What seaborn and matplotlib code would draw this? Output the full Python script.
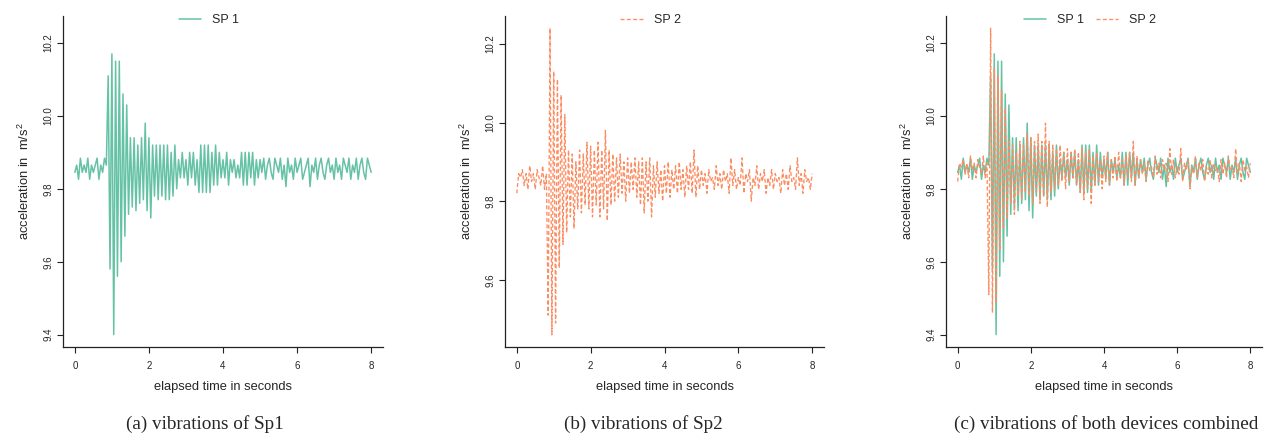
import numpy as np
import matplotlib
matplotlib.use('Agg')
import matplotlib.pyplot as plt
import seaborn as sns

# sampling rate of the smartphones (Hz)
SAMPLE_RATE = 20

# acceleration readings of smartphone 1 (m/s^2)
sp1 = [
    9.845, 9.865, 9.826, 9.884, 9.845, 9.865, 9.845, 9.884, 9.826, 9.865,
    9.845, 9.865, 9.884, 9.826, 9.865, 9.845, 9.884, 9.865,
    10.11, 9.58, 10.17, 9.40, 10.15, 9.56, 10.15, 9.60, 10.06, 9.67,
    10.03, 9.73, 9.94, 9.75, 9.94, 9.74, 9.92, 9.76, 9.94, 9.77,
    9.98, 9.74, 9.94, 9.72, 9.92, 9.78, 9.92, 9.77, 9.92, 9.78,
    9.92, 9.77, 9.92, 9.77, 9.90, 9.78, 9.92, 9.80, 9.88, 9.83,
    9.90, 9.83, 9.88, 9.81, 9.90, 9.83, 9.90, 9.81, 9.88, 9.79,
    9.92, 9.79, 9.92, 9.79, 9.92, 9.79, 9.90, 9.81, 9.92, 9.81,
    9.90, 9.83, 9.88, 9.83, 9.90, 9.81, 9.88, 9.845, 9.88, 9.83,
    9.865, 9.83, 9.90, 9.81, 9.90, 9.81, 9.90, 9.83, 9.90, 9.81,
    9.88, 9.83, 9.88,
    9.845, 9.884, 9.826, 9.865, 9.884, 9.845, 9.826, 9.884, 9.865, 9.845,
    9.884, 9.826, 9.865, 9.806, 9.884, 9.845, 9.865, 9.826, 9.884, 9.845,
    9.865, 9.884, 9.826, 9.845, 9.865, 9.884, 9.806, 9.865, 9.845, 9.884,
    9.826, 9.865, 9.884, 9.845, 9.826, 9.865, 9.884, 9.845, 9.865, 9.826,
    9.884, 9.845, 9.865, 9.826, 9.884, 9.865, 9.845, 9.884, 9.826, 9.865,
    9.845, 9.884, 9.826, 9.865, 9.884, 9.845, 9.826, 9.884, 9.865, 9.845,
]

# acceleration readings of smartphone 2 (m/s^2)
sp2 = [
    9.82, 9.87, 9.86, 9.88, 9.84, 9.87, 9.83, 9.89, 9.85, 9.87,
    9.83, 9.88, 9.86, 9.84, 9.89, 9.83, 9.87,
    9.51, 10.24, 9.46, 10.13, 9.49, 10.11, 9.63, 10.07, 9.69, 10.02,
    9.72, 9.93, 9.76, 9.92, 9.73, 9.90, 9.78, 9.93, 9.77, 9.92,
    9.79, 9.95, 9.78, 9.94, 9.76, 9.93, 9.79, 9.95, 9.76, 9.93,
    9.78, 9.98, 9.75, 9.93, 9.79, 9.92, 9.80, 9.91, 9.81, 9.92,
    9.82, 9.90, 9.80, 9.91, 9.82, 9.90, 9.83, 9.91, 9.81, 9.90,
    9.79, 9.91, 9.77, 9.90, 9.80, 9.91, 9.76, 9.89, 9.81, 9.90,
    9.82, 9.88, 9.80, 9.89, 9.82, 9.90, 9.81, 9.88, 9.83, 9.89,
    9.82, 9.90, 9.83, 9.88, 9.81, 9.89, 9.83, 9.90, 9.82, 9.93,
    9.81, 9.89, 9.83, 9.88,
    9.84, 9.87, 9.82, 9.88, 9.85, 9.86, 9.83, 9.89, 9.84, 9.87,
    9.83, 9.88, 9.85, 9.87, 9.82, 9.91, 9.84, 9.88, 9.83, 9.86,
    9.84, 9.91, 9.82, 9.87, 9.85, 9.88, 9.80, 9.86, 9.84, 9.89,
    9.83, 9.87, 9.85, 9.88, 9.82, 9.86, 9.84, 9.88, 9.83, 9.87,
    9.85, 9.86, 9.82, 9.88, 9.84, 9.87, 9.83, 9.89, 9.85, 9.86,
    9.83, 9.91, 9.84, 9.87, 9.82, 9.88, 9.85, 9.86, 9.83, 9.87,
]

x_ticks = [0, 2, 4, 6, 8]
y_ticks_full = [9.4, 9.6, 9.8, 10.0, 10.2]
y_ticks_sp2 = [9.6, 9.8, 10.0, 10.2]
captions = ['(a) vibrations of Sp1', '(b) vibrations of Sp2',
            '(c) vibrations of both devices combined']

time1 = np.arange(len(sp1)) / SAMPLE_RATE
time2 = np.arange(len(sp2)) / SAMPLE_RATE

sns.set_style('ticks')
plt.rcParams['font.family'] = ['Liberation Sans', 'DejaVu Sans']
plt.rcParams['mathtext.default'] = 'regular'

col1 = '#66c2a5'
col2 = '#fc8d62'
dash2 = (0, (3, 1.8))

W, H = 1264, 438
fig = plt.figure(figsize=(W / 100, H / 100), dpi=100)

# axes boxes in pixels: left, bottom-from-top, width
boxes = [(63, 347, 320), (505, 347, 319), (946, 347, 316)]
axes = []
for left, bottom, width in boxes:
    ax = fig.add_axes([left / W, (H - bottom) / H, width / W, 331 / H])
    axes.append(ax)

lw1, lw2 = 1.1, 0.95
sns.lineplot(x=time1, y=sp1, ax=axes[0], color=col1, linewidth=lw1, label='SP 1')
sns.lineplot(x=time2, y=sp2, ax=axes[1], color=col2, linewidth=lw2,
             linestyle=dash2, label='SP 2')
sns.lineplot(x=time1, y=sp1, ax=axes[2], color=col1, linewidth=lw1, label='SP 1')
sns.lineplot(x=time2, y=sp2, ax=axes[2], color=col2, linewidth=lw2,
             linestyle=dash2, label='SP 2')

ylims = [(9.366, 10.274), (9.429, 10.271), (9.366, 10.274)]
yticks = [y_ticks_full, y_ticks_sp2, y_ticks_full]

for ax, yl, yt in zip(axes, ylims, yticks):
    ax.set_xlim(-0.32, 8.32)
    ax.set_ylim(*yl)
    ax.set_xticks(x_ticks)
    ax.set_xticklabels([str(t) for t in x_ticks])
    ax.set_yticks(yt)
    ax.set_yticklabels([f'{v:.1f}' for v in yt], rotation=90, va='center')
    sns.despine(ax=ax)
    for s in ['left', 'bottom']:
        ax.spines[s].set_linewidth(0.9)
        ax.spines[s].set_color('#222222')
    ax.tick_params(axis='both', length=4, width=0.8, color='#222222',
                   labelsize=7)
    ax.tick_params(axis='x', pad=6)
    ax.tick_params(axis='y', pad=3)
    ax.set_xlabel('elapsed time in seconds', fontsize=9.3, labelpad=7)
    ax.set_ylabel('acceleration in  m/s$^{2}$', fontsize=9.3, labelpad=8)
    ax.legend(loc='center', bbox_to_anchor=(0.456, 0.988), ncol=2,
              frameon=False, fontsize=9, handlelength=1.8,
              handletextpad=0.9, columnspacing=0.9, borderaxespad=0)

for cx, text in zip([205, 643, 1106], captions):
    fig.text(cx / W, (H - 424) / H, text, ha='center', va='center',
             fontsize=13.8, family=['Liberation Serif', 'DejaVu Serif'])

fig.savefig('out.png', dpi=100)
